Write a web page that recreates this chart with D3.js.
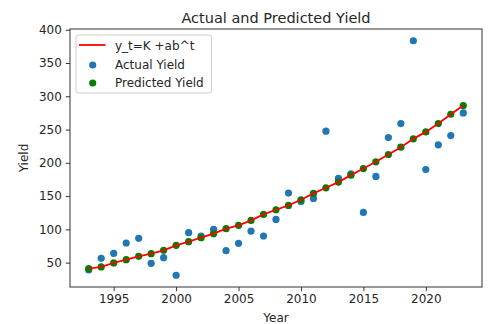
<!DOCTYPE html>
<html>
<head>
<meta charset="utf-8">
<script src="https://cdn.jsdelivr.net/npm/d3@7"></script>
<style>
  body { margin: 0; background: #fff; }
  text { font-family: "DejaVu Sans", sans-serif; fill: #262626; }
</style>
</head>
<body>
<div id="chart"></div>
<script>
// valores
const years = d3.range(1993, 2024);
const actualYield = [39, 56.5, 64, 79.5, 86.5, 49, 57.5, 31, 95, 90,
    100, 68, 79, 97.5, 90, 115, 154.5, 142, 146.5, 247.5,
    176.5, 183.5, 125.5, 179.5, 238, 259, 383.5, 190, 227, 241, 275];
const predictedYield = [41, 43.5, 49.5, 54.5, 59.5, 63.5, 68.5, 76, 81.5, 87.5,
    93.5, 101, 106, 113.5, 122.5, 129.5, 136, 144.5, 154, 162.5,
    171, 181.5, 191.5, 201.5, 212.5, 223.5, 236, 246.5, 259, 273, 286];
const xTicks = [1995, 2000, 2005, 2010, 2015, 2020];
const yTicks = [50, 100, 150, 200, 250, 300, 350, 400];
const legendLabels = ["y_t=K +ab^t", "Actual Yield", "Predicted Yield"];

const W = 488, H = 324;
const margin = { top: 29, right: 6, bottom: 37, left: 70 },
    width = W - margin.left - margin.right,
    height = H - margin.top - margin.bottom;

const svg = d3.select("#chart")
    .append("svg")
    .attr("width", W)
    .attr("height", H);

const g = svg.append("g")
    .attr("transform", "translate(" + margin.left + "," + margin.top + ")");

// margenes del 5% como matplotlib
const pad = (ext) => { const d = (ext[1] - ext[0]) * 0.05; return [ext[0] - d, ext[1] + d]; };
const allY = actualYield.concat(predictedYield);

const x = d3.scaleLinear()
    .domain(pad(d3.extent(years)))
    .range([0, width]);
const y = d3.scaleLinear()
    .domain(pad(d3.extent(allY)))
    .range([height, 0]);

const xAxis = g.append("g")
    .attr("transform", "translate(0," + height + ")")
    .call(d3.axisBottom(x).tickValues(xTicks).tickFormat(d3.format("d")).tickSize(4.2).tickPadding(3.5));
const yAxis = g.append("g")
    .call(d3.axisLeft(y).tickValues(yTicks).tickSize(4.2).tickPadding(4));

[xAxis, yAxis].forEach(a => {
    a.select(".domain").remove();
    a.selectAll("line").attr("stroke", "#333").attr("stroke-width", 1);
    a.selectAll("text").attr("font-size", 12).attr("fill", "#262626")
        .style("font-family", "DejaVu Sans, sans-serif");
});

// puntos
g.selectAll("circle.actual")
    .data(years)
    .enter()
    .append("circle")
    .attr("class", "actual")
    .attr("cx", (d, i) => x(d))
    .attr("cy", (d, i) => y(actualYield[i]))
    .attr("r", 3.6)
    .attr("fill", "#1f77b4");

g.selectAll("circle.pred")
    .data(years)
    .enter()
    .append("circle")
    .attr("class", "pred")
    .attr("cx", (d, i) => x(d))
    .attr("cy", (d, i) => y(predictedYield[i]))
    .attr("r", 3.6)
    .attr("fill", "green");

g.append("path")
    .datum(years)
    .attr("fill", "none")
    .attr("stroke", "red")
    .attr("stroke-width", 1.8)
    .attr("d", d3.line()
        .x(d => x(d))
        .y((d, i) => y(predictedYield[i]))
    );

// marco
g.append("rect")
    .attr("width", width)
    .attr("height", height)
    .attr("fill", "none")
    .attr("stroke", "#333")
    .attr("stroke-width", 1);

// titulos
svg.append("text")
    .attr("x", margin.left + width / 2)
    .attr("y", 23)
    .attr("text-anchor", "middle")
    .attr("font-size", 14.5)
    .text("Actual and Predicted Yield");

svg.append("text")
    .attr("x", margin.left + width / 2)
    .attr("y", 322)
    .attr("text-anchor", "middle")
    .attr("font-size", 12)
    .text("Year");

svg.append("text")
    .attr("transform", "translate(27.5," + (margin.top + height / 2) + ") rotate(-90)")
    .attr("text-anchor", "middle")
    .attr("font-size", 12)
    .text("Yield");

// leyenda
const lg = g.append("g").attr("transform", "translate(6,6)");
lg.append("rect")
    .attr("width", 135.5)
    .attr("height", 58)
    .attr("rx", 2.5)
    .attr("fill", "#fff")
    .attr("fill-opacity", 0.8)
    .attr("stroke", "#ccc")
    .attr("stroke-width", 1);

const rowY = [10, 29.5, 47.5];
lg.append("line")
    .attr("x1", 3).attr("x2", 29.5)
    .attr("y1", rowY[0]).attr("y2", rowY[0])
    .attr("stroke", "red").attr("stroke-width", 1.8);
lg.append("circle").attr("cx", 16.7).attr("cy", rowY[1] + 0.5).attr("r", 3.6).attr("fill", "#1f77b4");
lg.append("circle").attr("cx", 16.7).attr("cy", rowY[2] + 0.5).attr("r", 3.6).attr("fill", "green");

lg.selectAll("text.lbl")
    .data(legendLabels)
    .enter()
    .append("text")
    .attr("class", "lbl")
    .attr("x", 39)
    .attr("y", (d, i) => rowY[i] + 4.5)
    .attr("font-size", 12)
    .text(d => d);
</script>
</body>
</html>
